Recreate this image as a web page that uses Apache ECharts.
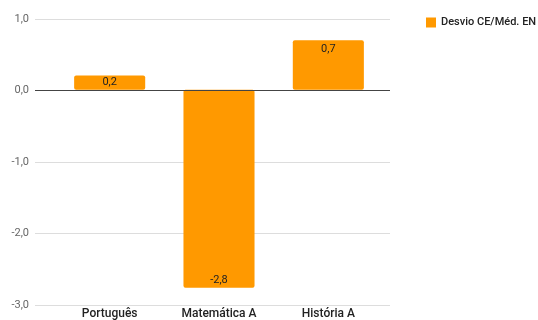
<!DOCTYPE html>
<html><head><meta charset="utf-8">
<script src="https://cdn.jsdelivr.net/npm/echarts@6/dist/echarts.min.js"></script>
<style>html,body{margin:0;padding:0;background:#fff}#c{width:538px;height:320px}</style>
</head><body><div id="c"></div>
<script>
const categories = ['Português', 'Matemática A', 'História A'];
const values = [0.2, -2.8, 0.7];
const seriesName = 'Desvio CE/Méd. EN';

const fmt = v => v.toFixed(1).replace('.', ',');
const chart = echarts.init(document.getElementById('c'));
chart.setOption({
  animation: false,
  textStyle: { fontFamily: 'Roboto' },
  legend: {
    left: 421, top: 12, itemWidth: 10, itemHeight: 10, itemGap: 8,
    textStyle: { fontSize: 11, color: '#222', fontFamily: 'Roboto', fontWeight: 500 },
    icon: 'rect',
    data: [seriesName]
  },
  grid: [
    { left: 35, right: 148, top: 19, bottom: 15 },
    { left: 55, right: 155, top: 19, bottom: 15 }
  ],
  xAxis: [
    { type: 'category', gridIndex: 0, data: categories, show: false },
    {
      type: 'category', gridIndex: 1, data: categories,
      axisLine: { show: false }, axisTick: { show: false },
      axisLabel: { color: '#222', fontSize: 12, margin: 6, fontWeight: 500, fontFamily: 'Roboto' }
    }
  ],
  yAxis: [
    {
      type: 'value', gridIndex: 0, min: -3, max: 1, interval: 1,
      axisLine: { show: false }, axisTick: { show: false },
      axisLabel: { color: '#666', fontSize: 11, margin: 6, formatter: fmt },
      splitLine: { lineStyle: { color: '#ddd', width: 1 } }
    },
    {
      type: 'value', gridIndex: 1, min: -3, max: 1, interval: 1,
      show: false, splitLine: { show: false }
    }
  ],
  series: [
    {
      type: 'line', xAxisIndex: 0, yAxisIndex: 0, data: [], silent: true,
      markLine: {
        silent: true, symbol: 'none', label: { show: false },
        lineStyle: { color: '#444', width: 1, type: 'solid' },
        data: [{ yAxis: 0 }]
      }
    },
    {
      name: seriesName, type: 'bar', xAxisIndex: 1, yAxisIndex: 1, barWidth: '65%',
      itemStyle: { color: '#ff9900', borderRadius: 2 },
      data: values.map(v => ({
        value: v,
        label: { position: Math.abs(v) < 0.3 ? 'inside' : (v >= 0 ? 'insideTop' : 'insideBottom'),
                 distance: v >= 0 ? 4 : 2 }
      })),
      label: {
        show: true, color: '#222', fontSize: 11,
        formatter: p => fmt(p.value)
      },
      z: 3
    }
  ]
});
</script></body></html>
